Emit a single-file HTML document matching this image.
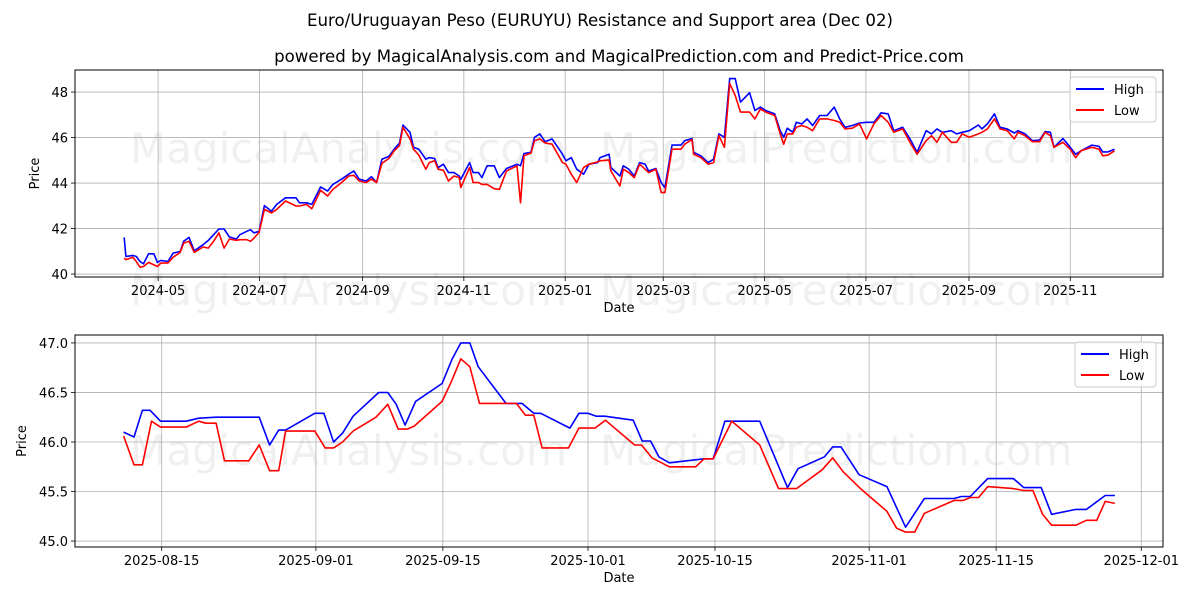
<!DOCTYPE html>
<html><head><meta charset="utf-8"><style>
body{margin:0;background:#fff;}
svg text{font-family:"DejaVu Sans","Liberation Sans",sans-serif;}
</style></head><body>
<svg id="fig" width="1200" height="600" viewBox="0 0 1200 600" xmlns="http://www.w3.org/2000/svg">
<rect width="1200" height="600" fill="#fff"/>
<text x="600" y="26" text-anchor="middle" font-size="16.6">Euro/Uruguayan Peso (EURUYU) Resistance and Support area (Dec 02)</text>
<text x="619" y="62" text-anchor="middle" font-size="16.6">powered by MagicalAnalysis.com and MagicalPrediction.com and Predict-Price.com</text>
<g fill="#000" fill-opacity="0.06" font-size="42">
<text x="130" y="163">MagicalAnalysis.com</text><text x="600" y="163">MagicalPrediction.com</text>
<text x="130" y="305">MagicalAnalysis.com</text><text x="600" y="305">MagicalPrediction.com</text>
<text x="130" y="465">MagicalAnalysis.com</text><text x="600" y="465">MagicalPrediction.com</text>
</g>
<g id="top"></g>
<g id="bot"></g>
</svg>
<script>
// Top chart data (days since 2024-05-01)
const topDays=[-20.4,-19.4,-15.2,-13.1,-10.9,-8.8,-5.7,-2.5,-0.4,1.7,5.9,9.1,13.3,15.4,18.6,21.8,27.1,30.2,33.4,36.6,39.7,42.9,47.1,49.2,53.4,55.6,57.7,60.8,64,68.2,71.4,76.7,83,85.1,89.3,92.5,97.8,102,105.2,110.4,114.7,117.8,121,125.2,128.4,131.5,134.7,138.9,142.1,145.3,147.4,151.6,153.7,156.9,161.1,163.2,166.4,168.5,171.7,174.8,178,181.2,182.2,187.5,189.6,192.8,194.9,198,202.3,205.4,209.7,216,218.1,220.2,224.4,226.5,229.7,232.9,237.1,243.4,245.5,248.7,251.9,256.1,259.3,264.5,
266,271.4,272.5,277.9,280,283.3,286.6,289.8,293.1,295.2,299.6,302.8,305,309.3,314.7,316.9,321.3,322.3,326.7,331,334.3,337.5,340.8,344,347.3,350.5,356,359.2,362.5,365.7,371.1,374.4,376.5,378.7,382,384.1,387.4,390.6,393.9,398.2,402.6,406.9,410.2,413.4,417.8,422.1,426.4,430.8,435.1,439.4,442.7,448.1,452.5,456.8,462.2,465.5,468.7,472,477.4,480.6,483.9,488.2,493.7,495.8,499.1,503.4,506.7,511,515.3,517.5,521.8,526.2,530.5,533.8,537,539.2,544.6,548.9,552.2,555.5,562,566.3,568.5,571.7,575.6];
const topHigh=[41.61,40.77,40.82,40.77,40.55,40.45,40.89,40.89,40.51,40.60,40.55,40.92,40.99,41.44,41.61,41.02,41.29,41.48,41.73,41.98,41.98,41.63,41.54,41.73,41.88,41.95,41.81,41.88,43.01,42.76,43.06,43.35,43.35,43.13,43.13,43.06,43.83,43.65,43.94,44.17,44.39,44.53,44.17,44.09,44.28,44.02,45.05,45.17,45.49,45.76,46.55,46.23,45.57,45.49,45.05,45.12,45.08,44.68,44.83,44.46,44.46,44.31,44.17,44.90,44.46,44.46,44.24,44.76,44.76,44.24,44.64,44.83,44.76,45.30,45.35,46.01,46.16,45.82,45.94,45.27,44.98,45.12,44.61,44.39,44.83,44.90,
45.12,45.27,44.68,44.31,44.76,44.61,44.31,44.90,44.83,44.53,44.64,44.02,43.80,45.67,45.67,45.86,45.96,45.35,45.20,44.90,45.05,46.16,46.01,48.59,48.59,47.56,47.97,47.19,47.34,47.19,47.04,46.30,46.01,46.41,46.23,46.67,46.60,46.82,46.53,46.97,46.97,47.34,46.82,46.45,46.53,46.64,46.67,46.67,47.09,47.04,46.30,46.45,45.94,45.35,46.30,46.16,46.38,46.23,46.30,46.16,46.23,46.30,46.55,46.38,46.60,47.04,46.45,46.38,46.20,46.30,46.16,45.86,45.89,46.26,46.23,45.57,45.96,45.57,45.27,45.42,45.67,45.61,45.37,45.37,45.49];
const topLow=[40.70,40.63,40.74,40.55,40.30,40.33,40.51,40.40,40.33,40.48,40.48,40.74,40.95,41.36,41.44,40.95,41.19,41.14,41.44,41.81,41.14,41.54,41.48,41.51,41.51,41.44,41.58,41.83,42.84,42.69,42.84,43.21,42.99,42.99,43.06,42.87,43.68,43.43,43.72,44.02,44.31,44.34,44.09,44.02,44.17,44.02,44.87,45.08,45.42,45.64,46.45,45.94,45.49,45.23,44.61,44.90,44.98,44.61,44.56,44.09,44.31,44.24,43.80,44.68,44.02,44.02,43.94,43.94,43.75,43.72,44.53,44.76,43.13,45.20,45.32,45.86,45.94,45.76,45.71,44.90,44.83,44.39,44.02,44.68,44.83,44.93,
44.98,45.02,44.53,43.87,44.61,44.46,44.24,44.83,44.61,44.46,44.61,43.58,43.58,45.49,45.49,45.71,45.91,45.27,45.12,44.83,44.90,46.08,45.57,48.37,47.85,47.12,47.12,46.82,47.26,47.12,46.97,46.16,45.71,46.16,46.16,46.45,46.53,46.45,46.30,46.82,46.82,46.75,46.67,46.38,46.41,46.60,45.94,46.60,46.97,46.67,46.23,46.38,45.79,45.27,45.86,46.08,45.79,46.23,45.79,45.79,46.16,46.01,46.16,46.23,46.38,46.82,46.38,46.30,45.94,46.23,46.08,45.82,45.82,46.23,46.08,45.57,45.79,45.49,45.12,45.42,45.57,45.49,45.20,45.23,45.42];
const topTickDays=[0,61,123,184,245,304,365,426,488,549];
const topTickLabels=["2024-05","2024-07","2024-09","2024-11","2025-01","2025-03","2025-05","2025-07","2025-09","2025-11"];
const topYTicks=[40,42,44,46,48];
// Bottom chart data (days since 2025-08-15)
const botHighDays=[-4.2,-3.05,-2.13,-1.28,-0.13,2.7,4.08,6.0,10.75,11.9,12.9,13.66,16.88,17.88,18.95,19.95,21.1,23.93,24.93,25.85,26.84,27.99,30.91,31.98,32.98,33.97,34.89,37.96,39.72,41.02,41.79,45.01,46.0,47.0,47.92,48.84,51.98,52.98,53.9,54.82,55.97,59.8,60.8,62.1,65.93,69.0,70.15,73.06,73.98,74.9,76.89,79.96,82.02,84.09,87.39,88.16,89.15,91.07,93.9,95.05,96.97,98.12,100.8,101.95,104.02,105.09];
const botHigh=[46.10,46.05,46.32,46.32,46.21,46.21,46.24,46.25,46.25,45.97,46.12,46.12,46.29,46.29,46.00,46.09,46.26,46.50,46.50,46.38,46.17,46.41,46.59,46.83,47.00,47.00,46.76,46.39,46.39,46.29,46.29,46.14,46.29,46.29,46.26,46.26,46.22,46.01,46.01,45.85,45.79,45.83,45.83,46.21,46.21,45.54,45.73,45.85,45.95,45.95,45.67,45.55,45.14,45.43,45.43,45.45,45.45,45.63,45.63,45.54,45.54,45.27,45.32,45.32,45.46,45.46];
const botLowDays=[-4.2,-3.05,-2.13,-1.13,-0.13,2.7,4.08,4.85,6.0,6.92,9.6,10.75,11.9,12.9,13.66,16.88,18.03,18.95,19.95,21.1,23.63,24.93,26.08,27.07,27.84,30.91,31.98,32.98,33.97,35.04,39.11,40.1,41.02,41.94,44.85,46.0,47.77,48.92,52.14,52.9,54.05,55.97,58.88,59.8,60.8,62.86,65.93,68.0,69.99,72.83,73.98,75.13,77.04,79.96,81.03,82.02,83.02,84.09,87.39,88.39,89.15,90.07,91.07,93.9,95.05,96.05,97.12,98.12,100.8,101.95,103.1,104.02,105.09];
const botLow=[46.06,45.77,45.77,46.21,46.15,46.15,46.21,46.19,46.19,45.81,45.81,45.97,45.71,45.71,46.11,46.11,45.94,45.94,46.00,46.11,46.25,46.38,46.13,46.13,46.16,46.41,46.62,46.84,46.76,46.39,46.39,46.27,46.27,45.94,45.94,46.14,46.14,46.22,45.97,45.97,45.84,45.75,45.75,45.83,45.83,46.21,45.97,45.53,45.53,45.72,45.84,45.70,45.53,45.30,45.13,45.09,45.09,45.28,45.41,45.41,45.44,45.44,45.55,45.53,45.51,45.51,45.27,45.16,45.16,45.21,45.21,45.40,45.38];
const botTickDays=[0,17,31,47,61,78,92,108];
const botTickLabels=["2025-08-15","2025-09-01","2025-09-15","2025-10-01","2025-10-15","2025-11-01","2025-11-15","2025-12-01"];
const botYTicks=[45.0,45.5,46.0,46.5,47.0];
const botYLabels=["45.0","45.5","46.0","46.5","47.0"];

const NS="http://www.w3.org/2000/svg";
function mk(parent,tag,attrs,text){const e=document.createElementNS(NS,tag);for(const k in attrs)e.setAttribute(k,attrs[k]);if(text!==undefined)e.textContent=text;parent.appendChild(e);return e;}

function drawChart(g,cfg){
  const {L,R,T,B,x,y}=cfg;
  cfg.xt.forEach((d,i)=>{const px=x(d);
    const gl=mk(g,'line',{x1:px,x2:px,y1:T,y2:B,stroke:'#b0b0b0','stroke-width':0.8});
    
    mk(g,'line',{x1:px,x2:px,y1:B,y2:B+4,stroke:'#000','stroke-width':0.8});
    const t=mk(g,'text',{x:px,y:B+18,'text-anchor':'middle','font-size':13},cfg.xl[i]);
    
  });
  cfg.yt.forEach((v,i)=>{const py=y(v);
    const gl=mk(g,'line',{x1:L,x2:R,y1:py,y2:py,stroke:'#b0b0b0','stroke-width':0.8});
    
    mk(g,'line',{x1:L-4,x2:L,y1:py,y2:py,stroke:'#000','stroke-width':0.8});
    const t=mk(g,'text',{x:L-7,y:py+5,'text-anchor':'end','font-size':13},cfg.yl[i]);
    
  });
  const series=[[cfg.hx,cfg.hy,'#0000ff','high-line'],[cfg.lx,cfg.ly,'#ff0000','low-line']];
  series.forEach(s=>{
    const pts=s[0].map((d,i)=>x(d).toFixed(1)+','+y(s[1][i]).toFixed(1)).join(' ');
    const p=mk(g,'polyline',{points:pts,fill:'none',stroke:s[2],'stroke-width':1.6,'stroke-linejoin':'round'});
    
  });
  const fr=mk(g,'rect',{x:L,y:T,width:R-L,height:B-T,fill:'none',stroke:'#000','stroke-width':1});
  
  const xt=mk(g,'text',{x:(L+R)/2,y:B+35,'text-anchor':'middle','font-size':13},'Date');
  
  const yt=mk(g,'text',{x:0,y:0,'text-anchor':'middle','font-size':13,transform:`translate(${cfg.yTitleX},${(T+B)/2}) rotate(-90)`},'Price');
  
  const lg=mk(g,'g',{});
  
  const lx=cfg.legX,ly=cfg.legY;
  mk(lg,'rect',{x:lx,y:ly,width:R-7-lx,height:45,rx:3,fill:'#fff','fill-opacity':0.8,stroke:'#cccccc'});
  [['High','#0000ff'],['Low','#ff0000']].forEach((e,i)=>{
    const eg=mk(lg,'g',{});
    
    const yy=ly+12+i*21;
    mk(eg,'line',{x1:lx+6,x2:lx+34,y1:yy,y2:yy,stroke:e[1],'stroke-width':2});
    mk(eg,'text',{x:lx+44,y:yy+5,'font-size':13},e[0]);
  });
}

const tL=75,tR=1163,tT=70,tB=277;
drawChart(document.getElementById('top'),{L:tL,R:tR,T:tT,B:tB,
  x:d=>158.1+d*1.6616, y:v=>tB-(v-39.87)/(48.97-39.87)*(tB-tT),
  xt:topTickDays,xl:topTickLabels,yt:topYTicks,yl:topYTicks.map(String),
  hx:topDays,hy:topHigh,lx:topDays,ly:topLow,yTitleX:39,legX:1070,legY:77});
const bT=335,bB=547;
drawChart(document.getElementById('bot'),{L:tL,R:tR,T:bT,B:bB,
  x:d=>161.7+d*9.07, y:v=>bB-(v-44.94)/(47.08-44.94)*(bB-bT),
  xt:botTickDays,xl:botTickLabels,yt:botYTicks,yl:botYLabels,
  hx:botHighDays,hy:botHigh,lx:botLowDays,ly:botLow,yTitleX:26,legX:1075,legY:342});
</script>
</body></html>
